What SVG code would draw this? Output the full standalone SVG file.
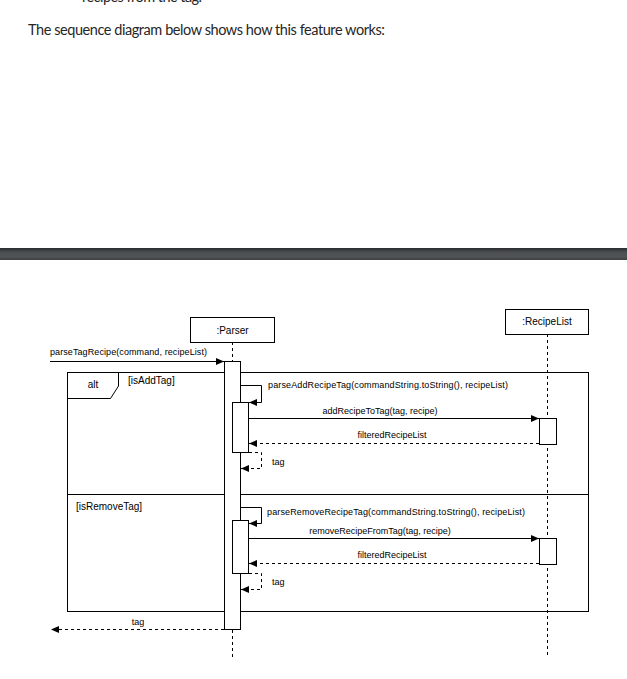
<svg xmlns="http://www.w3.org/2000/svg" width="627" height="679" viewBox="0 0 627 679">
<style>
.page{font-family:Lato,"Open Sans","Noto Sans",sans-serif;font-size:14.5px;fill:#262626}
.t{font-family:"Liberation Sans",Arial,sans-serif;font-size:9px;fill:#000}
.lbl{font-family:"Liberation Sans",Arial,sans-serif;font-size:10px;fill:#000}
.box{fill:#fff;stroke:#000;stroke-width:1}
.life{stroke:#000;stroke-width:1;stroke-dasharray:3 3;fill:none}
.msg{stroke:#000;stroke-width:1;fill:none;marker-end:url(#ah)}
.ret{stroke:#000;stroke-width:1;fill:none;stroke-dasharray:3 3;marker-end:url(#ah)}
.frame{fill:none;stroke:#000;stroke-width:1}
</style>
<defs>
<marker id="ah" markerUnits="userSpaceOnUse" markerWidth="8" markerHeight="7" refX="8" refY="3.5" orient="auto">
<path d="M0,0 L8,3.5 L0,7 z" fill="#000"/>
</marker>
<linearGradient id="band" x1="0" y1="0" x2="0" y2="1">
<stop offset="0" stop-color="#2a2c2e"/>
<stop offset="0.35" stop-color="#4a4e51"/>
<stop offset="0.75" stop-color="#505457"/>
<stop offset="1" stop-color="#3c3e40"/>
</linearGradient>
</defs>
<rect width="627" height="679" fill="#fff"/>
<text class="page" x="82" y="1.5" textLength="120">recipes from the tag.</text>
<text class="page" x="28" y="35" textLength="357">The sequence diagram below shows how this feature works:</text>
<rect x="0" y="248" width="627" height="12" fill="url(#band)"/>

<g id="alt-frame">
<rect class="frame" x="67.5" y="372.5" width="521" height="239"/>
<path class="frame" d="M67.5,398.5 H110.5 L118.5,386 V372.5"/>
<line class="frame" x1="67.5" y1="494.5" x2="588.5" y2="494.5"/>
<text class="lbl" x="93" y="388" text-anchor="middle">alt</text>
<text class="lbl" x="128" y="384">[isAddTag]</text>
<text class="lbl" x="76" y="510">[isRemoveTag]</text>
</g>

<g id="parser">
<line class="life" x1="232.5" y1="342" x2="232.5" y2="660"/>
<rect class="box" x="190.5" y="317.5" width="84" height="25"/>
<text class="lbl" x="232.5" y="333.5" text-anchor="middle">:Parser</text>
<rect class="box" x="224.5" y="361.5" width="16" height="268"/>
<rect class="box" x="232.5" y="402.5" width="16" height="50"/>
<rect class="box" x="232.5" y="520.5" width="16" height="53"/>
</g>

<g id="recipelist">
<line class="life" x1="547.5" y1="334" x2="547.5" y2="656"/>
<rect class="box" x="505.5" y="309.5" width="83" height="25"/>
<text class="lbl" x="547" y="325" text-anchor="middle">:RecipeList</text>
<rect class="box" x="539.5" y="418.5" width="17" height="26"/>
<rect class="box" x="539.5" y="538.5" width="17" height="26"/>
</g>

<g id="connectors">
<line class="msg" x1="50" y1="361.5" x2="224" y2="361.5"/>
<text class="t" x="50" y="355" textLength="157">parseTagRecipe(command, recipeList)</text>

<path class="msg" d="M240.5,385.5 H261.5 V402.5 H249"/>
<text class="t" x="268" y="388" textLength="240">parseAddRecipeTag(commandString.toString(), recipeList)</text>
<line class="msg" x1="249" y1="418.5" x2="539" y2="418.5"/>
<text class="t" x="380" y="414" text-anchor="middle">addRecipeToTag(tag, recipe)</text>
<line class="ret" x1="539" y1="443.5" x2="249" y2="443.5"/>
<text class="t" x="392" y="438" text-anchor="middle">filteredRecipeList</text>
<path class="ret" d="M249,452.5 H261.5 V468.5 H241"/>
<text class="t" x="272" y="465">tag</text>

<path class="msg" d="M240.5,507.5 H261.5 V523.5 H249"/>
<text class="t" x="267" y="515" textLength="258">parseRemoveRecipeTag(commandString.toString(), recipeList)</text>
<line class="msg" x1="249" y1="538.5" x2="539" y2="538.5"/>
<text class="t" x="380" y="534" text-anchor="middle">removeRecipeFromTag(tag, recipe)</text>
<line class="ret" x1="539" y1="563.5" x2="249" y2="563.5"/>
<text class="t" x="392" y="558" text-anchor="middle">filteredRecipeList</text>
<path class="ret" d="M249,573.5 H261.5 V589.5 H241"/>
<text class="t" x="272" y="585">tag</text>

<line class="ret" x1="224" y1="629.5" x2="51" y2="629.5"/>
<text class="t" x="138" y="625" text-anchor="middle">tag</text>
</g>
</svg>
